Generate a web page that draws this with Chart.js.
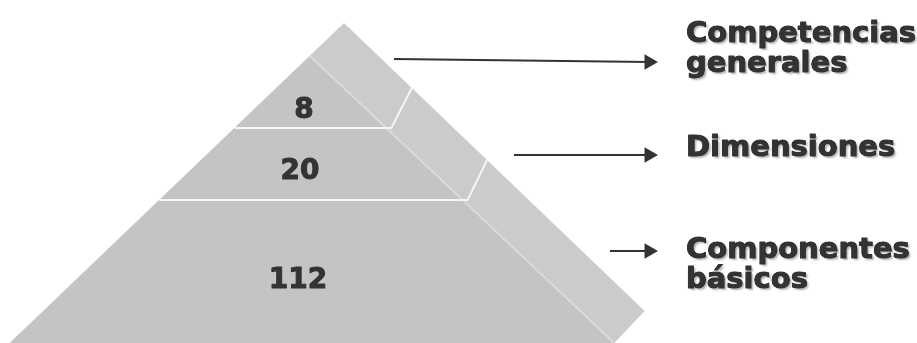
<!DOCTYPE html>
<html>
<head>
<meta charset="utf-8">
<script src="https://cdn.jsdelivr.net/npm/chart.js@4/dist/chart.umd.min.js"></script>
<style>
  body { margin: 0; background: #fff; }
  #wrap { width: 917px; height: 343px; }
</style>
</head>
<body>
<div id="wrap"><canvas id="pyramidChart"></canvas></div>
<script>
// levels, top to bottom
var levelNames = [["Competencias", "generales"], ["Dimensiones"], ["Componentes", "básicos"]];
var levelCounts = [8, 20, 112];

// pyramid geometry, in axis units (x to the right, y downwards)
var apex = {x: 344, y: 23};
var frontTop = {x: 310, y: 56};
var leftSlope = 1.046;
var innerSlope = 1.06;
var outerSlope = 1.044;
var baseY = 343;
var cornerY = 311;
var tierLines = [128, 200];
var countPos = {x: [304, 300, 298], y: [118, 179, 288]};
var namePos = {x: 686, y: [[42, 72], [156], [258, 288]]};
var arrowLines = [[394, 59, 62], [514, 155, 155], [610, 251, 251]];
var arrowEnd = 649;

function leftX(y) { return frontTop.x - leftSlope * (y - frontTop.y); }
function innerX(y) { return frontTop.x + innerSlope * (y - frontTop.y); }
function outerX(y) { return apex.x + outerSlope * (y - apex.y); }
function pt(x, y) { return {x: x, y: y}; }

var datasets = [];

// outline of the whole pyramid (shows as the side face)
datasets.push({
  data: [pt(apex.x, apex.y), pt(outerX(cornerY), cornerY), pt(innerX(baseY), baseY), pt(leftX(baseY), baseY)],
  backgroundColor: "#cbcbcb", borderWidth: 0, fill: "shape", pointRadius: 0
});
// front face
datasets.push({
  data: [pt(frontTop.x, frontTop.y), pt(leftX(baseY), baseY), pt(innerX(baseY), baseY)],
  backgroundColor: "#c4c4c4", borderWidth: 0, fill: "shape", pointRadius: 0
});
// edge between front and side
datasets.push({
  data: [pt(frontTop.x, frontTop.y), pt(innerX(baseY), baseY)],
  borderColor: "#dadada", borderWidth: 2, fill: false, pointRadius: 0
});
// tier separators
tierLines.forEach(function (y) {
  datasets.push({
    data: [pt(leftX(y), y), pt(innerX(y) + 5, y), pt(outerX(y - 40), y - 40)],
    borderColor: "#f6f6f6", borderWidth: 2, fill: false, pointRadius: 0
  });
});
// arrows to the level names
arrowLines.forEach(function (a) {
  datasets.push({
    data: [pt(a[0], a[1]), pt(arrowEnd, a[2])],
    borderColor: "#333333", borderWidth: 2, fill: false,
    pointRadius: [0, 9], pointStyle: "triangle", pointRotation: 90,
    pointBackgroundColor: "#333333", pointBorderWidth: 0
  });
});
// draw in the order pushed: first one at the back
datasets.forEach(function (d, i) { d.order = -i; });

// bold text with a slightly heavier stroke
function heavyText(ctx, t, x, y) {
  ctx.strokeText(t, x, y);
  ctx.fillText(t, x, y);
}

var textPlugin = {
  id: "pyramidText",
  afterDatasetsDraw: function (chart) {
    var ctx = chart.ctx;
    var xs = chart.scales.x, ys = chart.scales.y;
    ctx.save();
    ctx.fillStyle = "#333333";
    ctx.strokeStyle = "#333333";
    ctx.lineWidth = 1;
    ctx.lineJoin = "round";
    ctx.textAlign = "center";
    ctx.textBaseline = "alphabetic";
    ctx.font = "bold 28px 'DejaVu Sans'";
    levelCounts.forEach(function (n, i) {
      heavyText(ctx, String(n), xs.getPixelForValue(countPos.x[i]), ys.getPixelForValue(countPos.y[i]));
    });
    ctx.textAlign = "left";
    ctx.font = "bold 29px 'DejaVu Sans'";
    ctx.shadowColor = "rgba(0,0,0,0.3)";
    ctx.shadowOffsetX = 2;
    ctx.shadowOffsetY = 2;
    ctx.shadowBlur = 2;
    levelNames.forEach(function (lines, i) {
      lines.forEach(function (t, j) {
        ctx.fillText(t, xs.getPixelForValue(namePos.x), ys.getPixelForValue(namePos.y[i][j]));
      });
    });
    // second pass without shadow to thicken the strokes
    ctx.shadowColor = "rgba(0,0,0,0)";
    levelNames.forEach(function (lines, i) {
      lines.forEach(function (t, j) {
        heavyText(ctx, t, xs.getPixelForValue(namePos.x), ys.getPixelForValue(namePos.y[i][j]));
      });
    });
    ctx.restore();
  }
};

new Chart("pyramidChart", {
  type: "scatter",
  data: { datasets: datasets },
  options: {
    responsive: true,
    maintainAspectRatio: false,
    animation: false,
    events: [],
    showLine: true,
    layout: { padding: 0, autoPadding: false },
    plugins: { legend: { display: false }, tooltip: { enabled: false } },
    scales: {
      x: { type: "linear", min: 0, max: 917, display: false },
      y: { type: "linear", min: 0, max: 343, reverse: true, display: false }
    }
  },
  plugins: [textPlugin]
});
</script>
</body>
</html>
